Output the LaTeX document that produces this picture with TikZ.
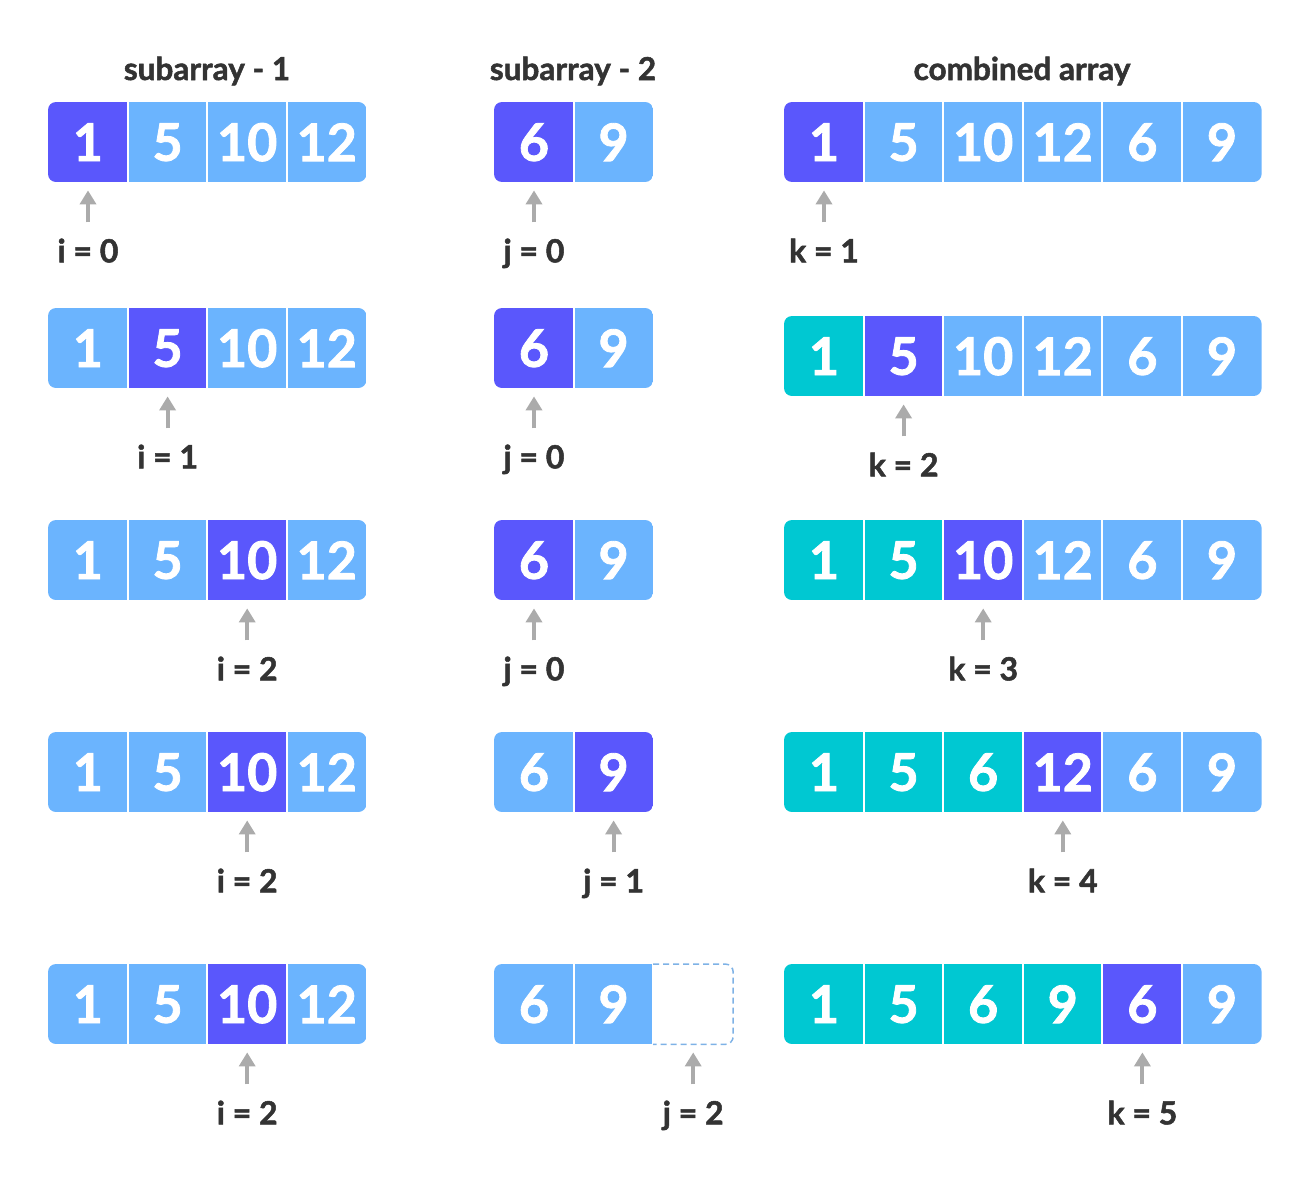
\documentclass[tikz,border=0pt]{standalone}
\usepackage{fontspec}
\setmainfont{Lato}[BoldFeatures={FakeBold=1.6}]
\usetikzlibrary{arrows.meta}
\definecolor{lb}{HTML}{6BB4FE}
\definecolor{pu}{HTML}{5A57FC}
\definecolor{te}{HTML}{00C8D2}
\definecolor{tx}{HTML}{333333}
\definecolor{ag}{HTML}{ABABAB}
\definecolor{dl}{HTML}{7EB2E6}
\newcommand\cw{79.6}
\newcommand\myarray[5]{%
\begin{scope}
\clip[rounded corners=8pt] (#2,#3) rectangle ++({#4*\cw},80);
\foreach \c/\v [count=\i from 0] in {#5} {
\node[cell, fill=\c, anchor=north west] (#1-\i) at ({#2+\i*\cw},#3) {\v};
\ifnum\i>0 \draw[white, line width=2pt] (#1-\i.north west) -- (#1-\i.south west);\fi
}
\end{scope}}
\newcommand\ptr[3]{%
\draw[ptr] ([yshift=-40pt]#1.south) -- ([yshift=-8pt]#1.south);
\node[lab, anchor=base] (#2) at ([yshift=-80pt]#1.south) {#3};}
\begin{document}
\begin{tikzpicture}[x=1pt,y=-1pt,
  cell/.style={draw=none, inner sep=0pt, minimum width=79.6pt, minimum height=80pt, text=white, font=\fontsize{52}{52}\selectfont\bfseries},
  lab/.style={inner sep=0pt, text=tx, font=\fontsize{32}{32}\selectfont\bfseries},
  ttl/.style={inner sep=0pt, text=tx, anchor=base, font=\fontsize{31.5}{32}\selectfont\bfseries},
  ptr/.style={draw=ag, line width=4pt, -{Triangle[width=16pt,length=14pt]}}]
\useasboundingbox (0,0) rectangle (1310,1178);
\node[ttl] (t1) at (207,80) {subarray - 1};
\node[ttl] (t2) at (573,80) {subarray - 2};
\node[ttl] (t3) at (1022,80) {combined array};
% row 1
\myarray{A1}{48}{102}{4}{pu/1,lb/5,lb/10,lb/12}
\myarray{B1}{494}{102}{2}{pu/6,lb/9}
\myarray{C1}{784}{102}{6}{pu/1,lb/5,lb/10,lb/12,lb/6,lb/9}
\ptr{A1-0}{la1}{i = 0}
\ptr{B1-0}{lb1}{j = 0}
\ptr{C1-0}{lc1}{k = 1}
% row 2
\myarray{A2}{48}{308}{4}{lb/1,pu/5,lb/10,lb/12}
\myarray{B2}{494}{308}{2}{pu/6,lb/9}
\myarray{C2}{784}{316}{6}{te/1,pu/5,lb/10,lb/12,lb/6,lb/9}
\ptr{A2-1}{la2}{i = 1}
\ptr{B2-0}{lb2}{j = 0}
\ptr{C2-1}{lc2}{k = 2}
% row 3
\myarray{A3}{48}{520}{4}{lb/1,lb/5,pu/10,lb/12}
\myarray{B3}{494}{520}{2}{pu/6,lb/9}
\myarray{C3}{784}{520}{6}{te/1,te/5,pu/10,lb/12,lb/6,lb/9}
\ptr{A3-2}{la3}{i = 2}
\ptr{B3-0}{lb3}{j = 0}
\ptr{C3-2}{lc3}{k = 3}
% row 4
\myarray{A4}{48}{732}{4}{lb/1,lb/5,pu/10,lb/12}
\myarray{B4}{494}{732}{2}{lb/6,pu/9}
\myarray{C4}{784}{732}{6}{te/1,te/5,te/6,pu/12,lb/6,lb/9}
\ptr{A4-2}{la4}{i = 2}
\ptr{B4-1}{lb4}{j = 1}
\ptr{C4-3}{lc4}{k = 4}
% row 5
\myarray{A5}{48}{964}{4}{lb/1,lb/5,pu/10,lb/12}
\myarray{B5}{494}{964}{3}{lb/6,lb/9,white/{}}
\myarray{C5}{784}{964}{6}{te/1,te/5,te/6,te/9,pu/6,lb/9}
\draw[dl, line width=1.5pt, dash pattern=on 6pt off 4pt, rounded corners=8pt]
  (B5-2.north west) -- (B5-2.north east) -- (B5-2.south east) -- (B5-2.south west);
\ptr{A5-2}{la5}{i = 2}
\ptr{B5-2}{lb5}{j = 2}
\ptr{C5-4}{lc5}{k = 5}
\end{tikzpicture}
\end{document}
